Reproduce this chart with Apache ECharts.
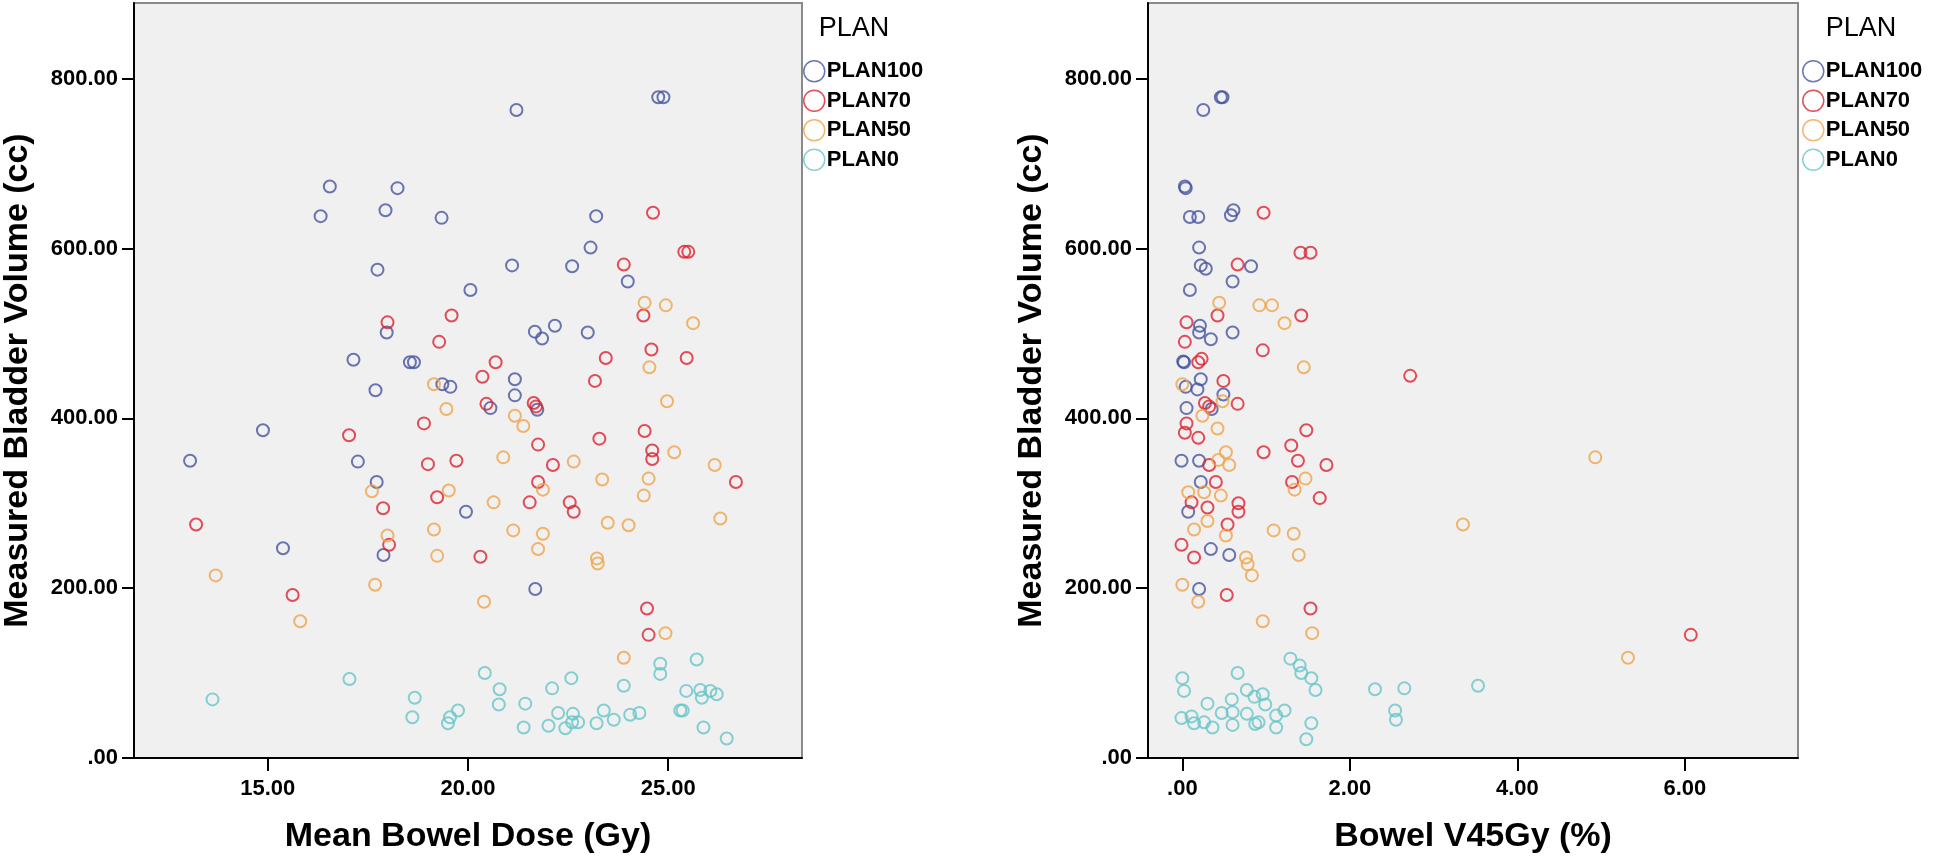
<!DOCTYPE html>
<html>
<head>
<meta charset="utf-8">
<script src="https://cdn.jsdelivr.net/npm/echarts@6/dist/echarts.min.js"></script>
<style>
html,body{margin:0;padding:0;background:#fff;}
#chart{width:1946px;height:859px;}
</style>
</head>
<body>
<div id="chart"></div>
<script>
// ---------- DATA ----------
const planNames = ['PLAN100', 'PLAN70', 'PLAN50', 'PLAN0'];
const yTicks = [0, 200, 400, 600, 800];
const xTicksLeft = [15, 20, 25];
const xTicksRight = [0, 2, 4, 6];

// Left: [Mean Bowel Dose (Gy), Measured Bladder Volume (cc)]
const mbdPlan100 = [[16.55,673],[18.24,671],[16.32,638],[17.94,645],[17.74,575],[17.97,501],[17.14,469],[18.55,466],[18.65,466],[17.69,433],[21.21,763],[24.75,778],[24.88,778],[19.34,636],[23.20,638],[23.06,601],[21.10,580],[22.60,579],[23.99,561],[20.06,551],[21.67,502],[21.85,494],[22.17,509],[22.99,501],[21.17,446],[21.17,427],[19.36,440],[19.56,437],[20.56,412],[21.73,410],[14.88,386],[13.06,350],[17.25,349],[17.72,325],[17.89,239],[15.38,247],[19.95,290],[21.68,199]];
const mbdPlan70 = [[17.99,513],[24.62,642],[25.40,596],[25.50,596],[23.89,581],[24.38,521],[19.59,521],[19.28,490],[24.58,481],[25.46,471],[23.44,471],[23.17,444],[20.69,466],[20.36,449],[20.46,417],[21.64,418],[21.70,414],[24.41,385],[18.90,394],[17.03,380],[17.88,294],[18.03,251],[13.21,275],[15.62,192],[23.28,376],[21.75,369],[24.60,362],[24.60,352],[19.00,346],[19.71,350],[22.12,345],[26.69,325],[21.75,325],[19.23,307],[21.54,301],[22.54,301],[22.64,290],[20.31,237],[24.47,176],[24.51,145]];
const mbdPlan50 = [[24.41,536],[24.94,533],[25.62,512],[24.53,460],[24.97,420],[19.15,440],[19.46,411],[21.17,403],[21.38,391],[17.60,314],[17.99,262],[17.68,204],[13.70,215],[15.81,161],[25.15,360],[20.88,354],[22.64,349],[26.16,345],[23.35,328],[24.51,329],[21.87,316],[19.52,315],[24.39,309],[26.30,282],[20.64,301],[19.15,269],[21.13,268],[21.87,264],[23.49,277],[24.01,274],[21.75,246],[19.23,238],[23.22,235],[23.24,229],[20.40,184],[24.93,147],[23.89,118]];
const mbdPlan0 = [[17.04,93],[13.62,69],[18.67,71],[18.61,48],[25.71,116],[24.80,111],[24.80,99],[20.42,100],[22.58,94],[23.89,85],[22.10,82],[20.79,81],[25.45,79],[25.80,80],[26.05,79],[26.21,75],[25.84,71],[20.77,63],[21.43,64],[19.75,56],[19.55,48],[19.50,41],[22.25,53],[22.62,52],[22.60,42],[22.75,42],[23.39,56],[23.64,45],[23.21,41],[24.05,51],[24.28,53],[25.30,56],[25.36,56],[21.39,36],[22.01,38],[22.43,35],[25.88,36],[26.46,23]];

// Right: [Bowel V45Gy (%), Measured Bladder Volume (cc)]
const v45Plan100 = [[0.25,763],[0.46,778],[0.48,778],[0.03,673],[0.04,671],[0.09,637],[0.19,637],[0.58,639],[0.61,645],[0.20,601],[0.22,580],[0.28,576],[0.82,579],[0.60,561],[0.09,551],[0.21,509],[0.20,501],[0.60,501],[0.34,493],[0.01,467],[0.02,466],[0.22,446],[0.18,434],[0.04,437],[0.49,428],[0.05,412],[0.35,411],[-0.01,350],[0.20,350],[0.22,325],[0.07,290],[0.34,246],[0.56,239],[0.20,199]];
const v45Plan70 = [[0.97,642],[1.41,595],[1.53,595],[0.66,581],[1.42,521],[0.42,521],[0.05,513],[0.03,490],[0.96,480],[0.23,470],[0.19,466],[2.72,450],[0.49,444],[0.66,417],[0.27,418],[0.32,414],[0.05,394],[1.48,386],[0.03,383],[0.19,377],[0.97,360],[1.30,368],[1.38,350],[1.72,345],[0.32,345],[0.40,325],[1.31,325],[1.64,306],[0.67,300],[0.67,290],[0.11,301],[0.30,295],[0.54,275],[-0.01,251],[0.14,236],[0.53,192],[1.53,176],[6.07,145]];
const v45Plan50 = [[0.44,536],[0.92,533],[1.07,533],[1.22,512],[1.45,460],[0.24,403],[0.42,388],[0.52,360],[0.43,351],[0.56,345],[1.47,329],[1.34,316],[0.07,313],[0.26,313],[0.46,309],[0.30,279],[0.14,269],[0.52,262],[1.09,268],[1.33,264],[0.76,236],[0.78,228],[0.83,215],[1.39,239],[0.00,204],[0.19,184],[0.96,161],[1.55,147],[4.93,354],[3.35,275],[5.32,118],[0.00,440],[0.48,420]];
const v45Plan0 = [[1.29,117],[1.40,109],[1.42,100],[1.54,94],[1.59,80],[0.00,94],[0.02,79],[0.66,100],[0.77,80],[0.86,72],[0.96,75],[0.99,63],[0.59,69],[0.30,64],[2.30,81],[2.65,82],[2.54,56],[2.55,45],[-0.01,47],[0.11,49],[0.14,41],[0.26,42],[0.36,36],[0.47,53],[0.60,54],[0.60,39],[0.77,52],[0.87,40],[0.91,42],[1.12,50],[1.22,56],[1.12,36],[1.54,41],[1.48,22],[3.53,85]];

// ---------- STYLE ----------
const FONT = '"Liberation Sans", Arial, sans-serif';
const colors = ['#46549f', '#dc2230', '#f0a448', '#66c6c8'];
const leftData = [mbdPlan100, mbdPlan70, mbdPlan50, mbdPlan0];
const rightData = [v45Plan100, v45Plan70, v45Plan50, v45Plan0];

function fmt(v) { return v === 0 ? '.00' : v.toFixed(2); }

function xAxisCfg(gridIndex, min, max, ticks, name) {
  return {
    type: 'value', gridIndex, min, max, name,
    nameLocation: 'middle', nameGap: 62,
    nameTextStyle: { fontFamily: FONT, fontSize: 34, fontWeight: 'bold', color: '#000' },
    axisLine: { show: true, onZero: false, lineStyle: { color: '#000', width: 2 } },
    axisTick: { show: true, customValues: ticks, length: 13, lineStyle: { color: '#000', width: 2 } },
    axisLabel: { customValues: ticks, formatter: fmt, margin: 20, fontFamily: FONT, fontSize: 22, fontWeight: 'bold', color: '#000' },
    splitLine: { show: false }
  };
}
function yAxisCfg(gridIndex) {
  return {
    type: 'value', gridIndex, min: 0, max: 889,
    name: 'Measured Bladder Volume (cc)',
    nameLocation: 'middle', nameGap: 99,
    nameTextStyle: { fontFamily: FONT, fontSize: 34, fontWeight: 'bold', color: '#000' },
    axisLine: { show: true, onZero: false, lineStyle: { color: '#000', width: 2 } },
    axisTick: { show: true, customValues: yTicks, length: 12, lineStyle: { color: '#000', width: 2 } },
    axisLabel: { customValues: yTicks, formatter: fmt, margin: 16, fontFamily: FONT, fontSize: 22, fontWeight: 'bold', color: '#000' },
    splitLine: { show: false }
  };
}

const series = [];
[leftData, rightData].forEach((set, gi) => {
  set.forEach((d, i) => {
    series.push({
      type: 'scatter', name: planNames[i],
      xAxisIndex: gi, yAxisIndex: gi,
      data: d, symbol: 'circle', symbolSize: 12,
      itemStyle: { color: 'transparent', borderColor: colors[i], borderWidth: 2 },
      emphasis: { disabled: true }
    });
  });
});

function legendCfg(left) {
  return {
    orient: 'vertical', left, top: 60, padding: 0,
    itemWidth: 21, itemHeight: 21, itemGap: 7,
    icon: 'circle', selectedMode: false,
    itemStyle: { color: 'transparent', borderWidth: 1.5 },
    textStyle: { fontFamily: FONT, fontSize: 22, fontWeight: 'bold', color: '#000', padding: [0, 0, 0, -3] },
    data: planNames
  };
}

const chart = echarts.init(document.getElementById('chart'), null, { renderer: 'canvas' });
chart.setOption({
  animation: false,
  backgroundColor: '#fff',
  grid: [
    { left: 133, top: 3, width: 669, height: 756, show: true, backgroundColor: '#f0f0f0', borderColor: '#8a8a8a', borderWidth: 2 },
    { left: 1148, top: 3, width: 650, height: 756, show: true, backgroundColor: '#f0f0f0', borderColor: '#8a8a8a', borderWidth: 2 }
  ],
  xAxis: [
    xAxisCfg(0, 11.66, 28.34, xTicksLeft, 'Mean Bowel Dose (Gy)'),
    xAxisCfg(1, -0.41, 7.35, xTicksRight, 'Bowel V45Gy (%)')
  ],
  yAxis: [yAxisCfg(0), yAxisCfg(1)],
  legend: [legendCfg(803), legendCfg(1802)],
  graphic: [
    { type: 'text', x: 854, y: 29, style: { text: 'PLAN', align: 'center', verticalAlign: 'middle', fontFamily: FONT, fontSize: 27, fill: '#000' } },
    { type: 'text', x: 1861, y: 29, style: { text: 'PLAN', align: 'center', verticalAlign: 'middle', fontFamily: FONT, fontSize: 27, fill: '#000' } }
  ],
  series
});
</script>
</body>
</html>
